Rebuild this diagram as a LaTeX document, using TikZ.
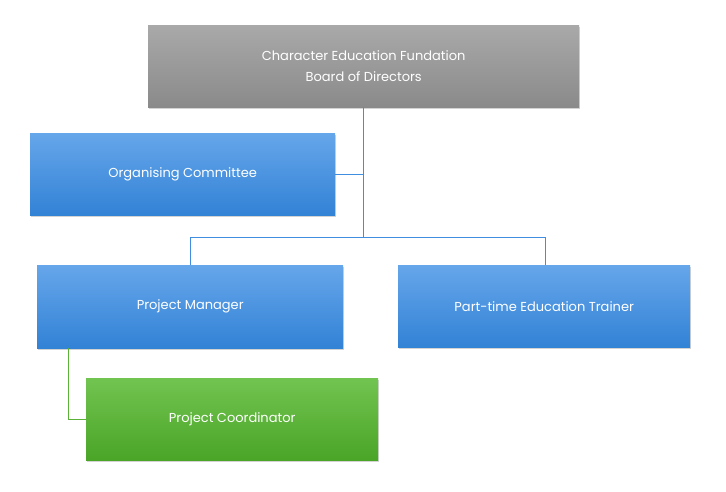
\documentclass[tikz,border=0pt]{standalone}
\usepackage{fontspec}
\setmainfont{Poppins}
\usetikzlibrary{shadows}
\definecolor{bluetop}{HTML}{66A6EA}
\definecolor{bluebot}{HTML}{3282D6}
\definecolor{graytop}{HTML}{A9A9A9}
\definecolor{graybot}{HTML}{8A8A8A}
\definecolor{greentop}{HTML}{72C450}
\definecolor{greenbot}{HTML}{4AA527}
\definecolor{bline}{HTML}{3F8EE0}
\definecolor{gline}{HTML}{5AB236}
\tikzset{
  box/.style={draw=none,text=white,align=center,anchor=north west,inner sep=0pt,
    font=\fontsize{13}{21}\selectfont,drop shadow={shadow xshift=1pt,shadow yshift=-1.5pt,opacity=0.35}},
  bluebox/.style={box,top color=bluetop,bottom color=bluebot},
  link/.style={draw=bline,line width=0.8pt}
}
\begin{document}
\begin{tikzpicture}[x=1pt,y=-1pt]
\useasboundingbox (0,0) rectangle (726,491);
% boxes
\node[box,top color=graytop,bottom color=graybot,minimum width=431pt,minimum height=82pt] (board) at (148,25)
  {Character Education Fundation\\Board of Directors};
\node[bluebox,minimum width=305pt,minimum height=82pt] (comm) at (30,133) {Organising Committee};
\node[bluebox,minimum width=306pt,minimum height=83pt] (pm) at (37,265) {Project Manager};
\node[bluebox,minimum width=292pt,minimum height=82pt] (trainer) at (398,265) {Part-time Education Trainer};
\node[box,top color=greentop,bottom color=greenbot,minimum width=292pt,minimum height=82pt] (coord) at (86,378) {Project Coordinator};
% connectors
\coordinate (split) at (board.south |- 0,237);
\draw[link] (board.south) -- (split);
\draw[link] (board.south |- comm.east) -- (comm.east);
\draw[link] (split) -| (pm.north -| 190,0);
\draw[link] (split) -| (trainer.north -| 545,0);
\draw[draw=gline,line width=0.8pt] (pm.south -| 68,0) |- (coord.west);
\end{tikzpicture}
\end{document}
